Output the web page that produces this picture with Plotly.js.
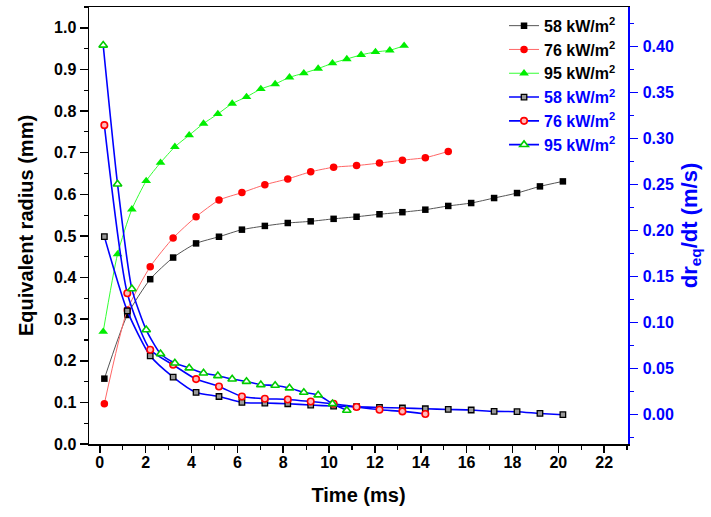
<!DOCTYPE html>
<html>
<head>
<meta charset="utf-8">
<script src="https://cdn.plot.ly/plotly-3.0.1.min.js"></script>
<style>html,body{margin:0;padding:0;background:#fff;}#chart{width:711px;height:517px;}</style>
</head>
<body>
<div id="chart"></div>
<script>
// ---- Data ----
const t58 = [0.2,1.2,2.2,3.2,4.2,5.2,6.2,7.2,8.2,9.2,10.2,11.2,12.2,13.2,14.2,15.2,16.2,17.2,18.2,19.2,20.2];
const r58 = [0.157,0.310,0.396,0.448,0.482,0.498,0.515,0.524,0.531,0.535,0.541,0.546,0.552,0.557,0.563,0.572,0.579,0.591,0.603,0.619,0.631];
const t76 = [0.2,1.2,2.2,3.2,4.2,5.2,6.2,7.2,8.2,9.2,10.2,11.2,12.2,13.2,14.2,15.2];
const r76 = [0.097,0.322,0.426,0.495,0.546,0.586,0.604,0.623,0.637,0.654,0.665,0.669,0.675,0.682,0.688,0.703];
const t95 = [0.15,0.775,1.4,2.025,2.65,3.275,3.9,4.525,5.15,5.775,6.4,7.025,7.65,8.275,8.9,9.525,10.15,10.775,11.4,12.025,12.65,13.275];
const r95 = [0.270,0.456,0.564,0.632,0.676,0.714,0.742,0.770,0.793,0.818,0.834,0.853,0.865,0.881,0.891,0.902,0.915,0.925,0.935,0.942,0.946,0.957];

const td58 = [0.2,1.2,2.2,3.2,4.2,5.2,6.2,7.2,8.2,9.2,10.2,11.2,12.2,13.2,14.2,15.2,16.2,17.2,18.2,19.2,20.2];
const d58 = [0.1934,0.1128,0.0640,0.0409,0.0242,0.0198,0.0133,0.0127,0.0119,0.0105,0.0094,0.0087,0.0079,0.0073,0.0065,0.0057,0.0051,0.0036,0.0033,0.0014,0.0000];
const td76 = [0.2,1.2,2.2,3.2,4.2,5.2,6.2,7.2,8.2,9.2,10.2,11.2,12.2,13.2,14.2];
const d76 = [0.3145,0.1320,0.0705,0.0542,0.0387,0.0307,0.0198,0.0174,0.0166,0.0144,0.0119,0.0084,0.0054,0.0036,0.0008];
const td95 = [0.15,0.775,1.4,2.025,2.65,3.275,3.9,4.525,5.15,5.775,6.4,7.025,7.65,8.275,8.9,9.525,10.15,10.775];
const d95 = [0.4013,0.2505,0.1367,0.0922,0.0662,0.0561,0.0507,0.0452,0.0423,0.0387,0.0361,0.0325,0.0318,0.0290,0.0242,0.0214,0.0119,0.0047];

const seriesNames = ['58 kW/m<sup>2</sup>','76 kW/m<sup>2</sup>','95 kW/m<sup>2</sup>'];

// ---- Styling ----
const FONT = 'Liberation Sans, Arial, Helvetica, sans-serif';
const blueName = n => '<span style="color:#0000ff">' + n + '</span>';

const traces = [
  {x:t58, y:r58, name:seriesNames[0], yaxis:'y', mode:'lines+markers',
   line:{color:'#555555', width:1, shape:'spline', smoothing:0.6},
   marker:{symbol:'square', size:6.5, color:'#000000'}},
  {x:t76, y:r76, name:seriesNames[1], yaxis:'y', mode:'lines+markers',
   line:{color:'#ff6666', width:1, shape:'spline', smoothing:0.6},
   marker:{symbol:'circle', size:7.5, color:'#ff0000'}},
  {x:t95, y:r95, name:seriesNames[2], yaxis:'y', mode:'lines+markers',
   line:{color:'#33ff33', width:1, shape:'spline', smoothing:0.6},
   marker:{symbol:'triangle-up', size:8.5, color:'#00ee00'}},
  {x:td58, y:d58, name:blueName(seriesNames[0]), yaxis:'y2', mode:'lines+markers',
   line:{color:'#0000ff', width:1.6, shape:'spline', smoothing:0.6},
   marker:{symbol:'square', size:5.5, color:'#999999', line:{color:'#000000', width:1.3}}},
  {x:td76, y:d76, name:blueName(seriesNames[1]), yaxis:'y2', mode:'lines+markers',
   line:{color:'#0000ff', width:1.6, shape:'spline', smoothing:0.6},
   marker:{symbol:'circle', size:6.5, color:'#ffbbbb', line:{color:'#ff0000', width:1.6}}},
  {x:td95, y:d95, name:blueName(seriesNames[2]), yaxis:'y2', mode:'lines+markers',
   line:{color:'#0000ff', width:1.6, shape:'spline', smoothing:0.6},
   marker:{symbol:'triangle-up', size:7.5, color:'#ffffff', line:{color:'#00cc00', width:1.6}}}
];

const tickFont = {family:FONT, size:16, color:'#000000', weight:'bold'};
const layout = {
  width:711, height:517,
  margin:{l:89, r:83, t:7, b:73, pad:0},
  paper_bgcolor:'#ffffff', plot_bgcolor:'#ffffff',
  showlegend:true,
  legend:{x:0.77, xanchor:'left', y:0.996, yanchor:'top', bgcolor:'rgba(0,0,0,0)',
          font:{family:FONT, size:16, color:'#000000', weight:'bold'}, tracegroupgap:0, itemwidth:30},
  xaxis:{range:[-0.47,23.04], tick0:0, dtick:2, ticks:'outside', ticklen:7, tickwidth:1.5, tickcolor:'#000',
         showline:true, linecolor:'#000', linewidth:1.5, mirror:true, showgrid:false, zeroline:false,
         ticklabelstandoff:-4,
         tickfont:tickFont,
         minor:{dtick:1, ticks:'outside', ticklen:4, tickwidth:1.2, tickcolor:'#000', showgrid:false},
         title:{text:'Time (ms)', font:{family:FONT, size:20, color:'#000', weight:'bold'}, standoff:18}},
  yaxis:{range:[0,1.05], tick0:0, dtick:0.1, tickformat:'.1f', ticks:'outside', ticklen:8, tickwidth:1.5, tickcolor:'#000',
         showline:true, linecolor:'#000', linewidth:1.5, showgrid:false, zeroline:false,
         tickfont:tickFont,
         minor:{dtick:0.05, ticks:'outside', ticklen:4, tickwidth:1.2, tickcolor:'#000', showgrid:false},
         title:{text:'Equivalent radius (mm)', font:{family:FONT, size:20, color:'#000', weight:'bold'}, standoff:15}},
  yaxis2:{overlaying:'y', side:'right', range:[-0.0318,0.4428], tick0:0, dtick:0.05, tickformat:'.2f',
          ticks:'outside', ticklen:8, tickwidth:1.5, tickcolor:'#0000ff',
          showline:true, linecolor:'#0000ff', linewidth:1.5, showgrid:false, zeroline:false,
          ticklabelstandoff:2,
          tickfont:{family:FONT, size:16, color:'#0000ff', weight:'bold'},
          minor:{dtick:0.025, ticks:'outside', ticklen:4, tickwidth:1.2, tickcolor:'#0000ff', showgrid:false},
          title:{text:'dr<sub>eq</sub>/dt (m/s)', font:{family:FONT, size:22, color:'#0000ff', weight:'bold'}, standoff:8}}
};

Plotly.newPlot('chart', traces, layout, {staticPlot:true, displayModeBar:false});
</script>
</body>
</html>
